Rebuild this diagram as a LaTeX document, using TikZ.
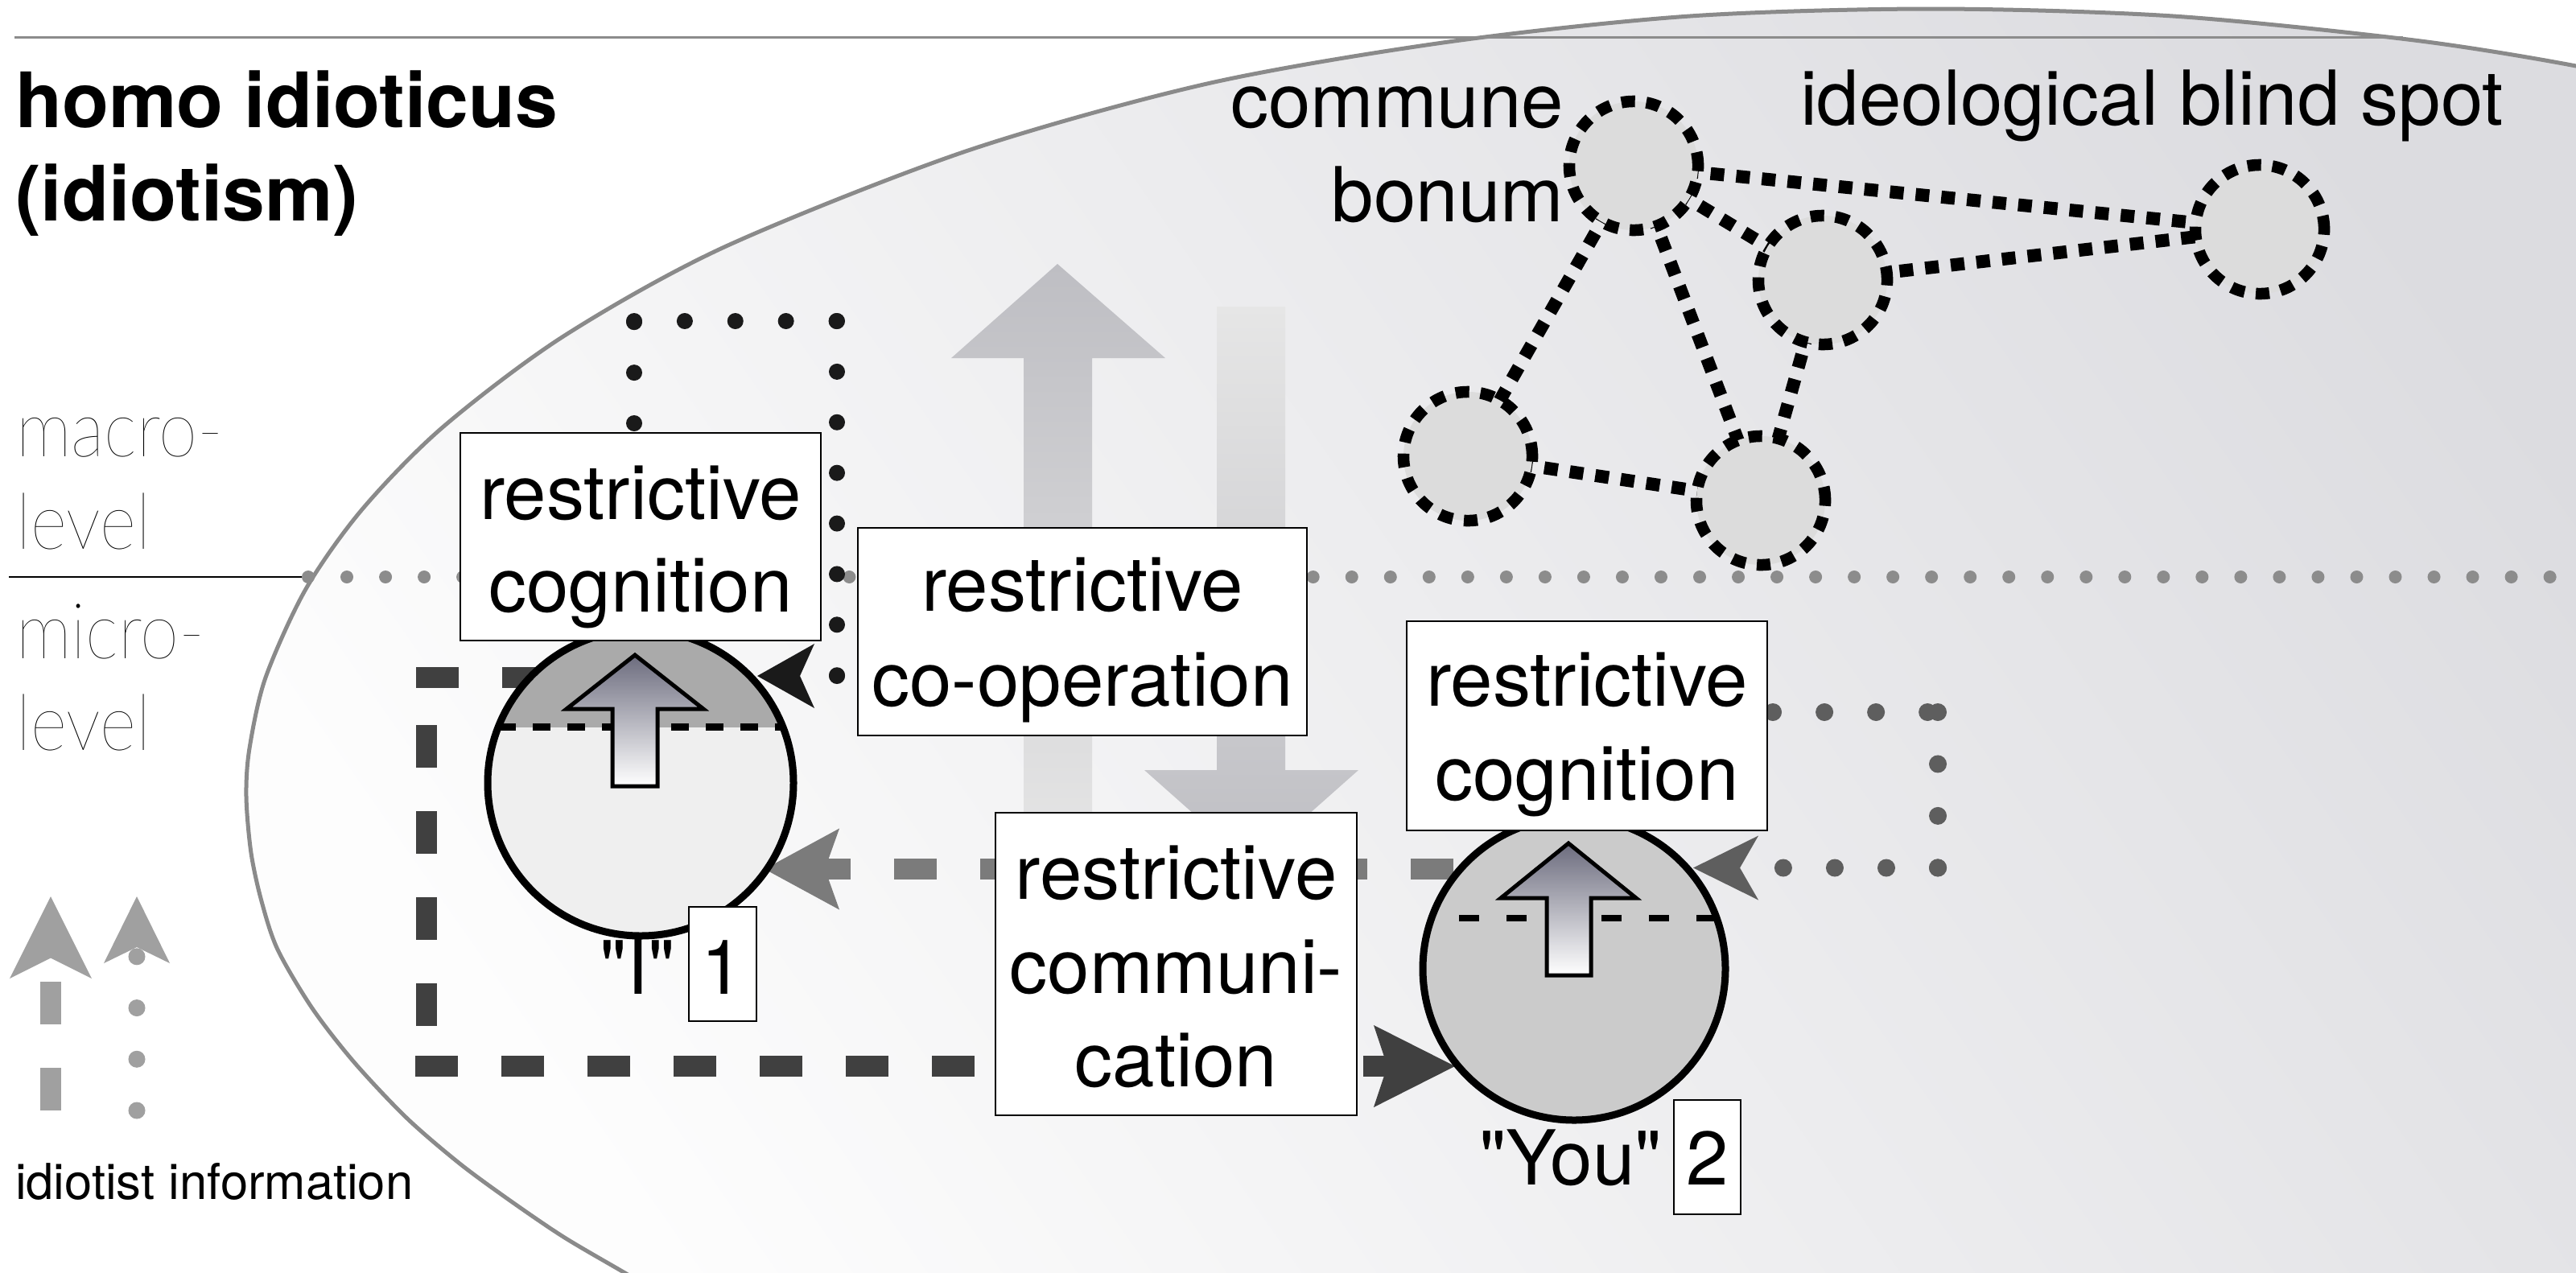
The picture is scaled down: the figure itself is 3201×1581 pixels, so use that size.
\documentclass[tikz,border=0pt]{standalone}
\usepackage{fontspec}
\setmainfont{TeX Gyre Heros}[Ligatures=TeXOff]
\IfFontExistsTF{Lato Thin}{\newfontfamily\hairfont{Lato Thin}[FakeStretch=0.9]}{%
  \IfFontExistsTF{Lato Hairline}{\newfontfamily\hairfont{Lato Hairline}[FakeStretch=0.9]}{\newfontfamily\hairfont{TeX Gyre Heros}}}
\usetikzlibrary{arrows.meta}
\pgfdeclarelayer{bg}
\pgfdeclarelayer{mid}
\pgfsetlayers{bg,mid,main}

\definecolor{rimgray}{HTML}{8A8A8A}
\definecolor{levelgray}{HTML}{8C8C8C}
\definecolor{coopblack}{HTML}{1A1A1A}
\definecolor{commdark}{HTML}{404040}
\definecolor{cogngray}{HTML}{7B7B7B}
\definecolor{dotgray}{HTML}{5E5E5E}
\definecolor{legendgray}{HTML}{A0A0A0}
\definecolor{capgray}{HTML}{AAAAAA}
\definecolor{headlight}{HTML}{EFEFEF}
\definecolor{youfill}{HTML}{CBCBCB}
\definecolor{netfill}{HTML}{DCDCDC}
\definecolor{bigdark}{HTML}{BEBEC3}
\definecolor{biglight}{HTML}{E6E6E6}
\definecolor{mindtop}{HTML}{6C6C7E}
\definecolor{ovaldark}{HTML}{DCDCE0}
\definecolor{ovallight}{HTML}{FDFDFD}

\newcommand\txtsize{\fontsize{26.8}{32}\selectfont}
\newcommand\levelsize{\fontsize{27.5}{32}\selectfont}
\newcommand\titlesize{\fontsize{27}{32}\selectfont\bfseries}
\newcommand\legendsize{\fontsize{17.5}{21}\selectfont}

\begin{document}
\begin{tikzpicture}[x=0.01cm, y=-0.01cm,
  txt/.style={inner sep=0pt, outer sep=0pt, font=\txtsize},
  lvltxt/.style={inner sep=0pt, outer sep=0pt, font={\hairfont\levelsize}, anchor=base west},
  labelbox/.style={draw=black, line width=0.025cm, fill=white, inner sep=0pt},
  netnode/.style={circle, inner sep=0pt, minimum size=1.6cm, fill=netfill,
    draw=black, line width=0.145cm, dash pattern=on 0.17cm off 0.14cm},
  netlink/.style={draw=black, line width=0.16cm, dash pattern=on 0.17cm off 0.15cm},
  mind/.style={circle, inner sep=0pt},
  rim/.style={black, line width=0.09cm},
  chord/.style={black, line width=0.085cm},
  insight/.style={draw=black, line width=0.05cm, top color=mindtop, bottom color=white},
  coopflow/.style={coopblack, line width=0.2cm, line cap=round, dash pattern=on 0cm off 0.6285cm},
  commflow/.style={commdark, line width=0.26cm, dash pattern=on 0.53cm off 0.54cm},
  cognflow/.style={cogngray, line width=0.26cm, dash pattern=on 0.53cm off 0.54cm},
  dotflow/.style={dotgray, line width=0.22cm, line cap=round},
  cooptip/.tip={Stealth[length=0.71cm, width=0.80cm, inset=0.18cm, line width=0pt]},
  commtip/.tip={Stealth[length=1.01cm, width=1.02cm, inset=0.17cm, line width=0pt]},
  cogntip/.tip={Stealth[length=0.93cm, width=1.01cm, inset=0.18cm, line width=0pt]},
  dottip/.tip={Stealth[length=0.81cm, width=0.80cm, inset=0.23cm, line width=0pt]},
  legdashtip/.tip={Stealth[length=1.02cm, width=1.02cm, inset=0.255cm, line width=0pt]},
  legdottip/.tip={Stealth[length=0.83cm, width=0.82cm, inset=0.20cm, line width=0pt]}]

\useasboundingbox (0,0) rectangle (3201,1581);

% ---------- background: page, the idiotism oval, level divider ----------
\begin{pgfonlayer}{bg}
  \fill[white] (0,0) rectangle (3201,1581);
  \begin{scope}
    \clip (0,0) rectangle (3201,1581);
    \path[top color=ovaldark, bottom color=ovallight, shading angle=-55]
      plot[smooth] coordinates {(3330,113) (3201,82) (3000,50) (2700,20) (2400,11)
        (2100,20) (1800,52) (1500,104) (1200,188) (900,307) (700,418) (550,531)
        (450,633) (380,732) (330,842) (310,930) (306,990) (312,1060) (325,1120)
        (345,1180) (388,1253) (440,1320) (505,1389) (570,1445) (631,1490)
        (700,1537) (775,1581) (850,1625)}
      -- (3400,1700) -- (3400,113) -- cycle;
    \draw[rimgray, line width=0.05cm]
      plot[smooth] coordinates {(3330,113) (3201,82) (3000,50) (2700,20) (2400,11)
        (2100,20) (1800,52) (1500,104) (1200,188) (900,307) (700,418) (550,531)
        (450,633) (380,732) (330,842) (310,930) (306,990) (312,1060) (325,1120)
        (345,1180) (388,1253) (440,1320) (505,1389) (570,1445) (631,1490)
        (700,1537) (775,1581) (850,1625)};
  \end{scope}
  % header rule
  \draw[levelgray, line width=0.03cm] (18,46.5) -- (2986,46.5);
  % macro / micro divider
  \draw[black, line width=0.025cm] (11,717) -- (383,717);
  \draw[levelgray, line width=0.16cm, line cap=round, dash pattern=on 0cm off 0.48cm]
    (383,717) -- (3215,717);
  % upward and downward flows between the levels
  \path[top color=bigdark, bottom color=biglight]
    (1314,328) -- (1448,445) -- (1357,445) -- (1357,1075) -- (1272,1075)
    -- (1272,445) -- (1182,445) -- cycle;
  \path[top color=biglight, bottom color=bigdark]
    (1512,381) -- (1597,381) -- (1597,957) -- (1688,957) -- (1555,1075)
    -- (1422,957) -- (1512,957) -- cycle;
\end{pgfonlayer}

% ---------- titles and level labels ----------
\node[txt, font=\titlesize, anchor=base west] (title1) at (19,158) {homo idioticus};
\node[txt, font=\titlesize, anchor=base west] (title2) at (19,274) {(idiotism)};
\node[lvltxt] (lvlA) at (20,567) {macro-};
\node[lvltxt] (lvlB) at (20,682) {level};
\node[lvltxt] (lvlC) at (20,818) {micro-};
\node[lvltxt] (lvlD) at (20,932) {level};

% ---------- ideological network ----------
\node[netnode] (nA) at (2030,206) {};
\node[netnode] (nB) at (2265,348) {};
\node[netnode] (nC) at (2808,285) {};
\node[netnode] (nD) at (1824,567) {};
\node[netnode] (nE) at (2188,622) {};
\node[txt, anchor=base east] (bonumA) at (1943,158) {commune};
\node[txt, anchor=base east] (bonumB) at (1943,275) {bonum};
\node[txt, anchor=base west] (blind) at (2237,155.5) {ideological blind spot};

% ---------- the two minds ----------
\node[mind, fill=headlight, minimum size=3.8cm] (meI) at (796,973) {};
\begin{scope}
  \clip (meI.center) circle (190);
  \fill[capgray] (590,760) rectangle (1000,903.5);
\end{scope}
\draw[chord, dash pattern=on 0.22cm off 0.21cm] (619,903.5) -- (973,903.5);
\draw[rim] (meI.center) circle (190);
\path[insight] (789,814) -- (874,881) -- (817,881) -- (817,977) -- (761,977)
  -- (761,881) -- (704,881) -- cycle;

\node[mind, fill=youfill, minimum size=3.76cm] (meYou) at (1956,1204) {};
\draw[chord, dash pattern=on 0.25cm off 0.34cm, dash phase=0.25cm] (1779,1141) -- (2133,1141);
\draw[rim] (meYou.center) circle (188);
\path[insight] (1949,1048) -- (2033,1116) -- (1977,1116) -- (1977,1212) -- (1922,1212)
  -- (1922,1116) -- (1865,1116) -- cycle;

\node[txt, anchor=base east] (nameI) at (839,1235.5) {"I"};
\node[labelbox, minimum width=0.84cm, minimum height=1.42cm] (numI) at (898,1198) {};
\node[txt, anchor=base] (numIt) at (898,1235.5) {1};
\node[txt, anchor=base east] (nameYou) at (2065,1472) {"You"};
\node[labelbox, minimum width=0.83cm, minimum height=1.42cm] (numYou) at (2121.5,1438) {};
\node[txt, anchor=base] (numYout) at (2121.5,1472) {2};

% ---------- process boxes ----------
\node[labelbox, minimum width=4.48cm, minimum height=2.58cm] (cogI) at (796,667) {};
\node[txt, anchor=base] (cogIa) at (796,645.5) {restrictive};
\node[txt, anchor=base] (cogIb) at (796,760.7) {cognition};

\node[labelbox, minimum width=4.48cm, minimum height=2.60cm] (cogYou) at (1972,902) {};
\node[txt, anchor=base] (cogYoua) at (1972,877) {restrictive};
\node[txt, anchor=base] (cogYoub) at (1972,994.5) {cognition};

\node[labelbox, minimum width=5.58cm, minimum height=2.58cm] (coop) at (1345,785) {};
\node[txt, anchor=base] (coopa) at (1345,759) {restrictive};
\node[txt, anchor=base] (coopb) at (1345,877) {co-operation};

\node[labelbox, minimum width=4.49cm, minimum height=3.76cm] (comm) at (1461.5,1198) {};
\node[txt, anchor=base] (comma) at (1461.5,1117) {restrictive};
\node[txt, anchor=base] (commb) at (1461.5,1234) {communi-};
\node[txt, anchor=base] (commc) at (1461.5,1350) {cation};

% ---------- legend ----------
\node[txt, font=\legendsize, anchor=base west] (legend) at (19,1490) {idiotist information};

% ---------- connector end points ----------
\coordinate (coopA) at (788,526);
\coordinate (coopB) at (788,399);
\coordinate (coopC) at (1040,399);
\coordinate (coopD) at (1040,840);
\coordinate (coopTip) at (941,840);
\coordinate (commA) at (517,842);
\coordinate (commC) at (530,901);
\coordinate (commD) at (530,1276);
\coordinate (commE) at (516,1325);
\coordinate (commTip) at (1808,1325);
\coordinate (cognStart) at (1806,1080);
\coordinate (cognTip) at (950,1080);
\coordinate (dotA) at (2139,885);
\coordinate (dotB) at (2408,885);
\coordinate (dotC) at (2408,1078.5);
\coordinate (dotTip) at (2104,1078.5);
\coordinate (legA) at (63,1380);
\coordinate (legATip) at (63,1114);
\coordinate (legB) at (170,1380);
\coordinate (legBTip) at (170,1114);

\begin{pgfonlayer}{mid}
  % network links
  \draw[netlink] (nA.center) -- (nC.center);
  \draw[netlink] (nA.center) -- (nB.center);
  \draw[netlink] (nA.center) -- (nD.center);
  \draw[netlink] (nA.center) -- (nE.center);
  \draw[netlink] (nB.center) -- (nC.center);
  \draw[netlink] (nB.center) -- (nE.center);
  \draw[netlink] (nD.center) -- (nE.center);
  % restrictive co-operation loop back to "I"
  \draw[coopflow] (coopA) -- (coopB);
  \draw[coopflow] (coopB) -- (coopC);
  \draw[coopflow] (coopC) -- (coopD);
  \draw[coopflow, -{cooptip}] (coopD) -- (coopTip);
  % restrictive communication from "I" to "You"
  \draw[commflow] (commA) -- (commA -| meI.center);
  \draw[commflow] (commC) -- (commD);
  \draw[commflow, -{commtip}] (commE) -- (commTip);
  % restrictive cognition feedback from "You" to "I"
  \draw[cognflow, -{cogntip}] (cognStart) -- (cognTip);
  % dotted feedback into "You"
  \draw[dotflow, dash pattern=on 0cm off 0.64cm] (dotA) -- (dotB);
  \draw[dotflow, dash pattern=on 0cm off 0.644cm] (dotB) -- (dotC);
  \draw[dotflow, dash pattern=on 0cm off 0.64cm, -{dottip}] (dotC) -- (dotTip);
  % legend arrows
  \draw[legendgray, line width=0.25cm, dash pattern=on 0.53cm off 0.54cm, -{legdashtip}] (legA) -- (legATip);
  \draw[legendgray, line width=0.21cm, line cap=round, dash pattern=on 0cm off 0.637cm, -{legdottip}] (legB) -- (legBTip);
\end{pgfonlayer}
\end{tikzpicture}
\end{document}
